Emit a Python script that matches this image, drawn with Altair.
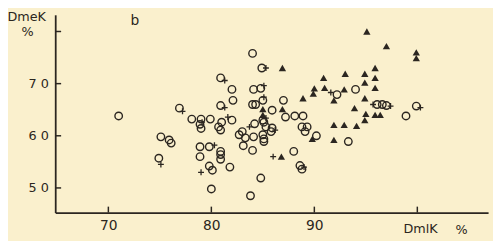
import altair as alt
import pandas as pd

# open circles (DmlK %, DmeK %)
circ_x = [71.0, 75.1, 75.9, 76.1, 74.9, 76.9, 78.1, 79.0, 79.9, 78.9, 79.0, 78.9, 79.8, 78.9,
          79.8, 80.1, 80.0, 80.9, 80.9, 80.9, 81.8, 80.9, 82.0, 82.1, 80.9, 82.0, 81.0, 80.7,
          80.9, 82.7, 83.0, 83.1, 83.3, 84.1, 84.0,
          84.0, 84.9, 84.1, 84.8, 84.0, 84.3, 85.0, 85.9, 87.0, 87.2, 88.1, 88.9, 85.0, 84.2,
          85.1, 85.3, 85.9, 85.8, 85.0, 85.1, 85.1, 88.8, 89.3, 89.1, 90.2, 88.0, 88.6, 88.8,
          84.8, 83.8,
          92.2, 94.0, 96.1, 96.6, 97.0, 98.9, 99.9, 93.3]
circ_y = [63.8, 59.8, 59.2, 58.6, 55.7, 65.3, 63.2, 63.2, 63.2, 62.2, 61.4, 57.9, 57.9, 56.0,
          54.2, 53.4, 49.8, 57.0, 56.4, 55.5, 54.0, 71.1, 68.9, 66.8, 65.8, 63.0, 62.6, 61.7,
          61.1, 60.2, 60.8, 58.1, 59.6, 59.8, 57.2,
          75.8, 73.0, 68.9, 69.1, 66.0, 66.0, 66.8, 64.9, 66.8, 63.6, 63.8, 63.8, 63.0, 62.3,
          62.6, 61.7, 61.5, 60.8, 60.2, 59.4, 58.9, 61.7, 61.7, 60.8, 60.0, 57.0, 54.3, 53.6,
          51.9, 48.5,
          67.9, 68.9, 66.0, 66.0, 65.8, 63.8, 65.7, 58.9]

# filled triangles
tri_x = [95.1, 97.0, 99.9, 99.9, 86.9, 90.9, 93.0, 94.9, 95.9, 94.9, 95.9, 95.9, 90.0, 89.9,
         91.0, 92.9, 91.9, 94.9, 88.9, 85.0, 85.0, 86.9, 93.9, 95.0, 94.9, 95.9, 96.4, 91.9,
         92.9, 94.1, 89.8, 91.9, 86.8]
tri_y = [80.0, 77.2, 76.0, 74.9, 73.0, 71.1, 71.9, 71.9, 73.0, 70.2, 71.1, 69.2, 69.1, 68.1,
         69.2, 68.9, 66.8, 67.2, 67.2, 65.1, 64.0, 65.1, 65.3, 64.2, 63.0, 64.0, 64.0, 62.1,
         62.1, 61.9, 59.4, 59.2, 56.0]

# plus signs
plus_x = [75.1, 77.2, 80.3, 79.0, 81.3, 81.3, 81.6, 85.3, 85.1, 85.1, 85.3, 83.7, 86.2, 86.0,
          89.0, 91.6, 95.7, 97.4, 100.3, 79.1]
plus_y = [54.5, 64.7, 58.2, 53.0, 70.6, 65.4, 63.6, 73.0, 69.6, 67.4, 63.4, 61.7, 61.1, 56.0,
          54.0, 68.3, 66.0, 65.7, 65.4, 62.6]

x_ticks = [70, 80, 90, 100]
x_tick_labels = ["70", "80", "90", ""]
y_ticks = [50, 60, 70, 80]
y_tick_labels = ["5 0", "6 0", "7 0", ""]

y_title = ["DmeK"]
y_unit = ["%"]
panel = ["b"]
x_title = ["DmlK"]
x_unit = ["%"]

INK = "#2b2620"
BG = "#FAF0CD"
FONT = "DejaVu Sans"
W, H = 440, 201

xs = alt.Scale(domain=[64.84, 106.87], nice=False, zero=False)
ys = alt.Scale(domain=[45.28, 83.2], nice=False, zero=False)

x_expr = " : ".join([f"datum.value == {v} ? '{l}'" for v, l in zip(x_ticks, x_tick_labels)]) + " : ''"
y_expr = " : ".join([f"datum.value == {v} ? '{l}'" for v, l in zip(y_ticks, y_tick_labels)]) + " : ''"

xa = alt.Axis(values=x_ticks, labelExpr=x_expr, ticks=False, grid=False, title=None,
              domainColor=INK, domainWidth=1.8, labelColor=INK, labelFont=FONT,
              labelFontSize=14, labelPadding=6)
ya = alt.Axis(values=y_ticks, labelExpr=y_expr, ticks=False, grid=False, title=None,
              domainColor=INK, domainWidth=1.8, labelColor=INK, labelFont=FONT,
              labelFontSize=13, labelPadding=7)

cdf = pd.DataFrame({"x": circ_x, "y": circ_y})
tdf = pd.DataFrame({"x": tri_x, "y": tri_y})
pdf = pd.DataFrame({"x": plus_x, "y": plus_y})

circles = alt.Chart(cdf).mark_point(shape="circle", size=58, filled=False, color=INK,
                                    strokeWidth=1.4, opacity=1).encode(
    x=alt.X("x:Q", scale=xs, axis=xa), y=alt.Y("y:Q", scale=ys, axis=ya))
tris = alt.Chart(tdf).mark_point(shape="triangle-up", size=55, filled=True, color=INK,
                                 opacity=1).encode(
    x=alt.X("x:Q", scale=xs), y=alt.Y("y:Q", scale=ys))
plus = alt.Chart(pdf).mark_point(shape="M-1,0L1,0M0,-1L0,1", size=36, filled=False,
                                 color=INK, strokeWidth=1.3, opacity=1).encode(
    x=alt.X("x:Q", scale=xs), y=alt.Y("y:Q", scale=ys))

xt = alt.Chart(pd.DataFrame({"v": x_ticks})).mark_rule(color=INK, strokeWidth=1.5).encode(
    x=alt.X("v:Q", scale=xs), y=alt.value(H), y2=alt.value(H - 6))
yt = alt.Chart(pd.DataFrame({"v": y_ticks})).mark_rule(color=INK, strokeWidth=1.5).encode(
    y=alt.Y("v:Q", scale=ys), x=alt.value(0), x2=alt.value(6))


def label(txt, px, py, align="center", size=13):
    return alt.Chart(pd.DataFrame({"t": txt})).mark_text(
        font=FONT, fontSize=size, color=INK, align=align, baseline="alphabetic").encode(
        text="t:N", x=alt.value(px), y=alt.value(py))


chart = alt.layer(
    xt, yt, circles, tris, plus,
    label(y_title, -29, 6),
    label(y_unit, -28, 22),
    label(panel, 81, 10, size=14),
    label(x_title, 354, 222, align="left"),
    label(x_unit, 407, 223, align="left"),
).properties(
    width=W, height=H, background=BG,
    autosize=alt.AutoSizeParams(type="none"),
    padding={"left": 48, "top": 5, "right": 5, "bottom": 27},
).configure_view(stroke=None)

chart.save("out.html", embed_options={"renderer": "svg", "actions": False})
